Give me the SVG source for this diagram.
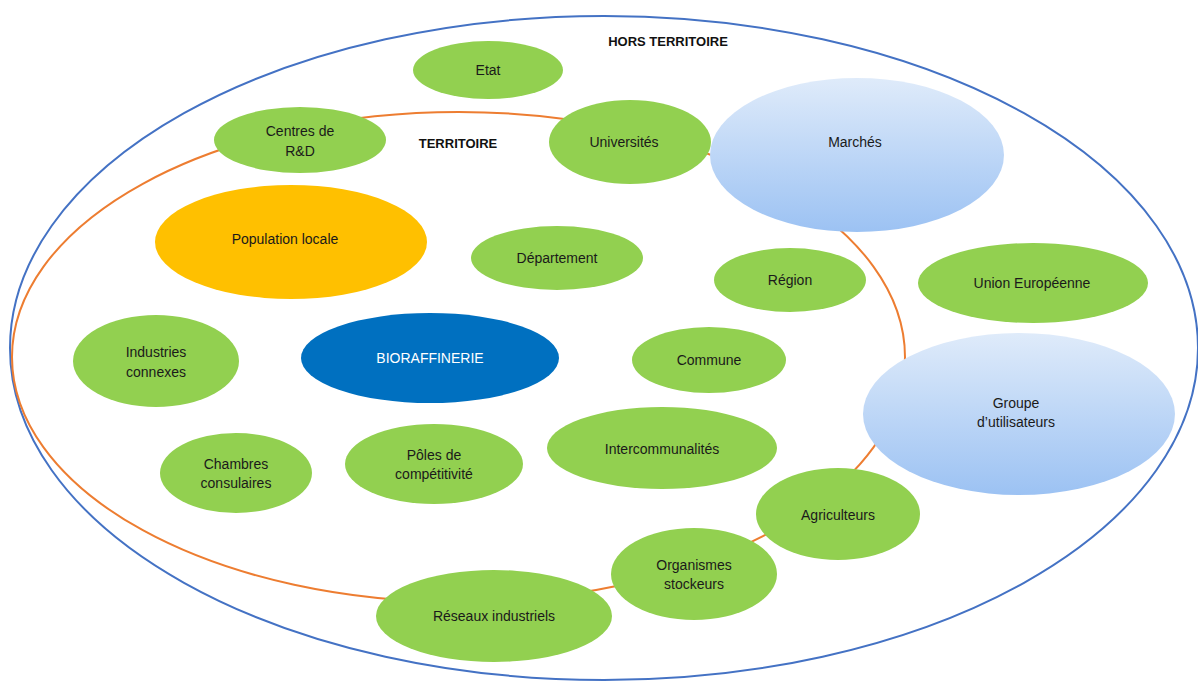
<svg xmlns="http://www.w3.org/2000/svg" width="1198" height="682" viewBox="0 0 1198 682">
<defs>
<linearGradient id="lb" x1="0" y1="0" x2="0" y2="1">
<stop offset="0" stop-color="#DFEBFA"/>
<stop offset="1" stop-color="#9CC2F3"/>
</linearGradient>
<style>
.g{fill:#92D050}
.b{fill:url(#lb)}
.t{font-family:"Liberation Sans",Arial,sans-serif;font-size:14px;fill:#1a1a1a;text-anchor:middle}
.h{font-family:"Liberation Sans",Arial,sans-serif;font-size:13px;font-weight:bold;fill:#111;text-anchor:middle}
.ring{fill:none;stroke-width:2}
</style>
</defs>
<rect width="1198" height="682" fill="#fff"/>
<g id="connectors">
<ellipse class="ring" cx="604" cy="348" rx="594" ry="332" stroke="#4472C4"/>
<ellipse class="ring" cx="458.5" cy="357" rx="446.5" ry="245" stroke="#ED7D31"/>
</g>
<text class="h" x="668" y="46">HORS TERRITOIRE</text>
<text class="h" x="458" y="148">TERRITOIRE</text>
<g id="etat"><ellipse class="g" cx="488" cy="70" rx="75" ry="29"/><text class="t" x="488" y="75">Etat</text></g>
<g id="centres"><ellipse class="g" cx="300" cy="140" rx="86" ry="33"/><text class="t" x="300" y="136">Centres de</text><text class="t" x="300" y="156">R&amp;D</text></g>
<g id="universites"><ellipse class="g" cx="630" cy="142" rx="81" ry="42"/><text class="t" x="624" y="147">Universités</text></g>
<g id="marches"><ellipse class="b" cx="857" cy="155" rx="147" ry="77"/><text class="t" x="855" y="147">Marchés</text></g>
<g id="population"><ellipse fill="#FFC000" cx="291" cy="242" rx="136" ry="57"/><text class="t" x="285" y="244">Population locale</text></g>
<g id="departement"><ellipse class="g" cx="557" cy="258" rx="86" ry="32"/><text class="t" x="557" y="263">Département</text></g>
<g id="region"><ellipse class="g" cx="790" cy="280" rx="76" ry="32"/><text class="t" x="790" y="285">Région</text></g>
<g id="ue"><ellipse class="g" cx="1033" cy="283" rx="115" ry="40"/><text class="t" x="1032" y="288">Union Européenne</text></g>
<g id="industries"><ellipse class="g" cx="156" cy="361" rx="83" ry="46"/><text class="t" x="156" y="357">Industries</text><text class="t" x="156" y="377">connexes</text></g>
<g id="bioraffinerie"><ellipse fill="#0070C0" cx="430" cy="358" rx="129" ry="45"/><text class="t" x="430" y="363" style="fill:#fff">BIORAFFINERIE</text></g>
<g id="commune"><ellipse class="g" cx="709" cy="360" rx="77" ry="33"/><text class="t" x="709" y="365">Commune</text></g>
<g id="groupe"><ellipse class="b" cx="1019" cy="414" rx="156" ry="81"/><text class="t" x="1016" y="408">Groupe</text><text class="t" x="1016" y="427">d’utilisateurs</text></g>
<g id="chambres"><ellipse class="g" cx="236" cy="473" rx="76" ry="40"/><text class="t" x="236" y="469">Chambres</text><text class="t" x="236" y="488">consulaires</text></g>
<g id="poles"><ellipse class="g" cx="434" cy="464" rx="89" ry="40"/><text class="t" x="434" y="460">Pôles de</text><text class="t" x="434" y="479">compétitivité</text></g>
<g id="intercommunalites"><ellipse class="g" cx="662" cy="448" rx="115" ry="41"/><text class="t" x="662" y="454">Intercommunalités</text></g>
<g id="agriculteurs"><ellipse class="g" cx="838" cy="514" rx="82" ry="46"/><text class="t" x="838" y="520">Agriculteurs</text></g>
<g id="organismes"><ellipse class="g" cx="694" cy="574" rx="83" ry="46"/><text class="t" x="694" y="570">Organismes</text><text class="t" x="694" y="589">stockeurs</text></g>
<g id="reseaux"><ellipse class="g" cx="494" cy="616" rx="118" ry="46"/><text class="t" x="494" y="621">Réseaux industriels</text></g>
</svg>
